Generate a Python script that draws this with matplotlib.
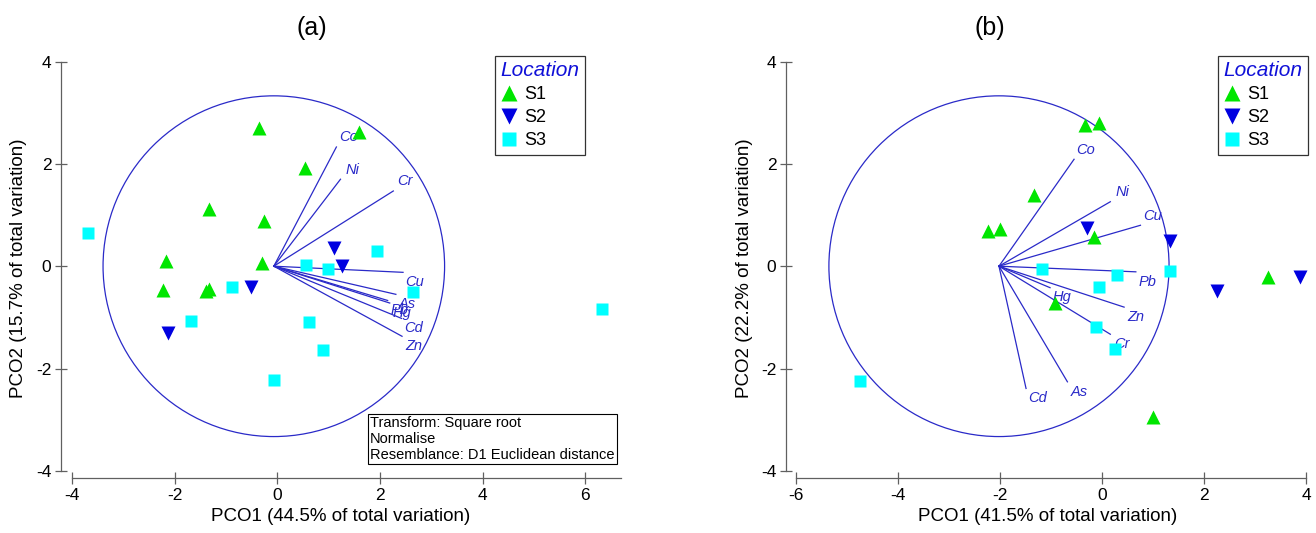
import numpy as np
import matplotlib
matplotlib.use("Agg")
import matplotlib.pyplot as plt
from matplotlib.patches import Circle

plt.rcParams['font.family'] = ['Liberation Sans', 'DejaVu Sans']
plt.rcParams['axes.unicode_minus'] = False

# ---- panel (a) scores ----
a_s1_x = [-2.17, -2.23, -1.39, -1.33, -1.33, -0.35, -0.26, -0.30, 0.53, 1.60]
a_s1_y = [0.11, -0.46, -0.49, -0.45, 1.11, 2.71, 0.875, 0.065, 1.91, 2.63]
a_s2_x = [1.10, 1.26, -0.52, -2.14]
a_s2_y = [0.36, 0.01, -0.41, -1.31]
a_s3_x = [-3.69, 1.95, 0.56, 0.98, 2.65, -0.89, -1.68, 0.62, 0.88, -0.07, 6.32]
a_s3_y = [0.65, 0.29, 0.03, -0.05, -0.51, -0.41, -1.08, -1.10, -1.64, -2.23, -0.84]

# vector overlay (a)
a_center = (-0.07, 0.0)
a_radius = 3.33
a_vec_names = ['Co', 'Ni', 'Cr', 'Cu', 'As', 'Pb', 'Hg', 'Cd', 'Zn']
a_vec_x = [1.15, 1.23, 2.26, 2.45, 2.31, 2.15, 2.19, 2.42, 2.43]
a_vec_y = [2.33, 1.70, 1.47, -0.12, -0.55, -0.67, -0.72, -1.02, -1.37]

# ---- panel (b) scores ----
b_s1_x = [-0.34, -0.07, -1.34, -2.24, -2.00, -0.15, -0.92, 3.25, 0.99]
b_s1_y = [2.76, 2.79, 1.40, 0.68, 0.73, 0.57, -0.71, -0.22, -2.95]
b_s2_x = [-0.30, 1.32, 2.24, 3.87]
b_s2_y = [0.75, 0.50, -0.48, -0.22]
b_s3_x = [-1.17, 0.30, -0.07, 1.33, -0.13, 0.25, -4.75]
b_s3_y = [-0.05, -0.18, -0.41, -0.10, -1.18, -1.62, -2.25]

b_center = (-2.02, 0.0)
b_radius = 3.33
b_vec_names = ['Co', 'Ni', 'Cu', 'Pb', 'Hg', 'Zn', 'Cr', 'As', 'Cd']
b_vec_x = [-0.55, 0.16, 0.75, 0.66, -1.02, 0.43, 0.16, -0.68, -1.49]
b_vec_y = [2.09, 1.26, 0.80, -0.11, -0.42, -0.80, -1.33, -2.26, -2.39]

S1_COL = '#00e600'
S2_COL = '#0000e0'
S3_COL = '#00ffff'
VEC_COL = '#2a2ac8'
AX_COL = '#606060'


def draw_panel(ax, s1, s2, s3, center, radius, names, vx, vy, xlim, xbounds, xticks):
    ax.set_xlim(*xlim)
    ax.set_ylim(-4.14, 4.05)
    for sp in ['top', 'right']:
        ax.spines[sp].set_visible(False)
    ax.spines['left'].set_bounds(-4, 4)
    ax.spines['bottom'].set_bounds(*xbounds)
    for sp in ['left', 'bottom']:
        ax.spines[sp].set_color(AX_COL)
        ax.spines[sp].set_linewidth(0.9)
    ax.set_xticks(xticks)
    ax.set_yticks([-4, -2, 0, 2, 4])
    ax.tick_params(direction='inout', length=8, width=0.9, color=AX_COL,
                   labelsize=12.5, pad=3)

    ax.add_patch(Circle(center, radius, fill=False, ec=VEC_COL, lw=0.9))
    for n, x, y in zip(names, vx, vy):
        ax.plot([center[0], x], [center[1], y], color=VEC_COL, lw=0.9)
        dy = 7 if y > center[1] else -7
        ax.annotate(n, (x, y), xytext=(8.5, dy), textcoords='offset points',
                    ha='center', va='center', style='italic', color=VEC_COL,
                    fontsize=10.5)

    ax.plot(s1[0], s1[1], '^', color=S1_COL, ms=10, mec='none', label='S1', zorder=3)
    ax.plot(s2[0], s2[1], 'v', color=S2_COL, ms=10, mec='none', label='S2', zorder=3)
    ax.plot(s3[0], s3[1], 's', color=S3_COL, ms=8.5, mec='none', label='S3', zorder=3)


fig = plt.figure(figsize=(13.16, 5.33), dpi=100)

ax1 = fig.add_axes([61 / 1316, 55 / 533, 560 / 1316, 419 / 533])
draw_panel(ax1, (a_s1_x, a_s1_y), (a_s2_x, a_s2_y), (a_s3_x, a_s3_y),
           a_center, a_radius, a_vec_names, a_vec_x, a_vec_y,
           (-4.22, 6.7), (-4, 6.7), [-4, -2, 0, 2, 4, 6])
ax1.set_xlabel('PCO1 (44.5% of total variation)', fontsize=13.5)
ax1.set_ylabel('PCO2 (15.7% of total variation)', fontsize=13.5)
ax1.xaxis.set_label_coords(0.5, -0.072)
ax1.yaxis.set_label_coords(-0.06, 0.5)

ax2 = fig.add_axes([786 / 1316, 55 / 533, 523 / 1316, 419 / 533])
draw_panel(ax2, (b_s1_x, b_s1_y), (b_s2_x, b_s2_y), (b_s3_x, b_s3_y),
           b_center, b_radius, b_vec_names, b_vec_x, b_vec_y,
           (-6.19, 4.05), (-6, 4), [-6, -4, -2, 0, 2, 4])
ax2.set_xlabel('PCO1 (41.5% of total variation)', fontsize=13.5)
ax2.set_ylabel('PCO2 (22.2% of total variation)', fontsize=13.5)
ax2.xaxis.set_label_coords(0.5, -0.072)
ax2.yaxis.set_label_coords(-0.064, 0.5)

fig.text(312 / 1316, 1 - 28 / 533, '(a)', ha='center', va='center', fontsize=18)
fig.text(990 / 1316, 1 - 28 / 533, '(b)', ha='center', va='center', fontsize=18)

for ax, xr in [(ax1, 585), (ax2, 1308)]:
    leg = ax.legend(loc='upper right', bbox_to_anchor=(xr / 1316, 1 - 56 / 533),
                    bbox_transform=fig.transFigure, title='Location',
                    fontsize=13, frameon=True, fancybox=False, edgecolor='black',
                    handlelength=0.9, handletextpad=0.4, borderpad=0.3,
                    labelspacing=0.33, borderaxespad=0, alignment='left',
                    markerscale=1.15)
    leg.get_frame().set_linewidth(0.9)
    t = leg.get_title()
    t.set_color('#1010d8')
    t.set_style('italic')
    t.set_fontsize(15)

fig.text(370 / 1316, 1 - 439 / 533,
         'Transform: Square root\nNormalise\nResemblance: D1 Euclidean distance',
         ha='left', va='center', fontsize=10.5, linespacing=1.2,
         bbox=dict(boxstyle='square,pad=0.15', fc='white', ec='black', lw=0.8))

fig.savefig('out.png', dpi=100)
